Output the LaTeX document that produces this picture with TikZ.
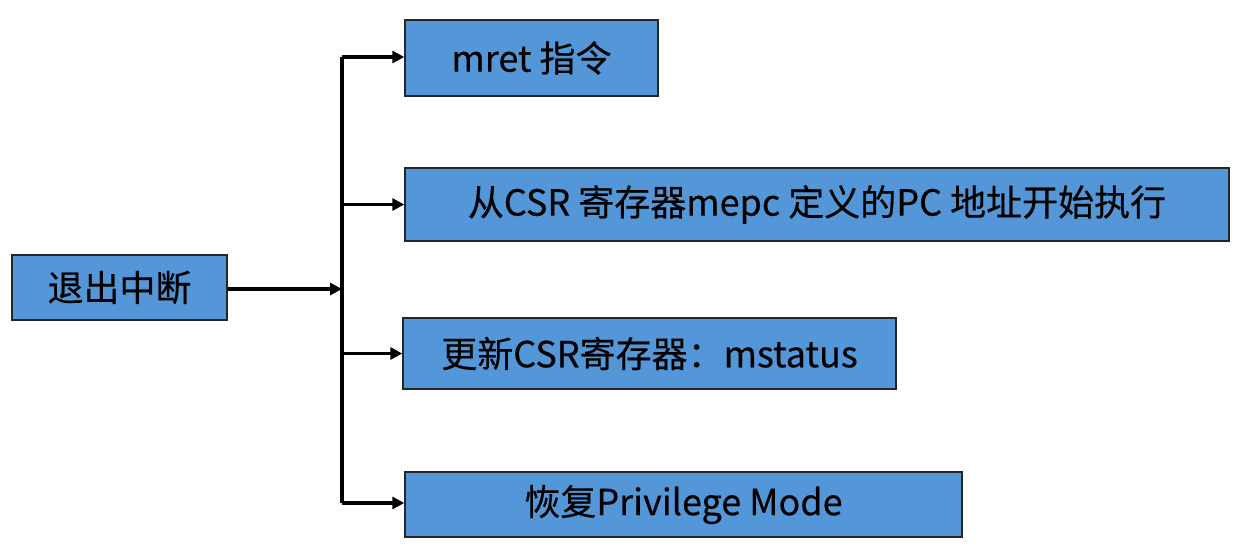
\documentclass[tikz,border=0pt]{standalone}
\usepackage{fontspec}
\setmainfont[FakeBold=0.4]{Noto Sans CJK SC}
\usetikzlibrary{arrows.meta}
\usetikzlibrary{calc}
\definecolor{boxblue}{RGB}{84,151,216}

\begin{document}
\begin{tikzpicture}[x=1pt,y=-1pt,
    box/.style={draw=black!85, line width=1.4pt, fill=boxblue, inner sep=0pt,
      font=\fontsize{36}{40}\selectfont},
    link/.style={line width=3.2pt, -{Triangle[length=12pt,width=12pt]}}]
      \useasboundingbox (0,0) rectangle (1246,546);
      \node[box, minimum width=215pt, minimum height=65pt] (exit) at (119.5,287.5) {退出中断};
      \node[box, minimum width=253pt, minimum height=76pt] (mret) at (531.5,58) {mret 指令};
      \node[box, minimum width=824pt, minimum height=73pt] (mepc) at (817,204.5) {从CSR 寄存器mepc 定义的PC 地址开始执行};
      \node[box, minimum width=493pt, minimum height=71pt] (mstat) at (649.5,353.5) {更新CSR寄存器：mstatus};
      \node[box, minimum width=557pt, minimum height=65pt] (priv) at (683.5,504.5) {恢复Privilege Mode};

      \coordinate (top) at (342,57);
      \coordinate (bot) at (342,503);
      \coordinate (join) at (342,289);
      \draw[line width=3.2pt] (top) -- (bot);
      \path[link] (exit.east |- join) edge (join);
      \path[link] (top) edge (mret.west |- top);
      \path[link] (top |- mepc.west) edge (mepc.west);
      \path[link] (top |- mstat.west) edge (mstat.west);
      \path[link] (bot) edge (priv.west |- bot);
    \end{tikzpicture}
\end{document}
